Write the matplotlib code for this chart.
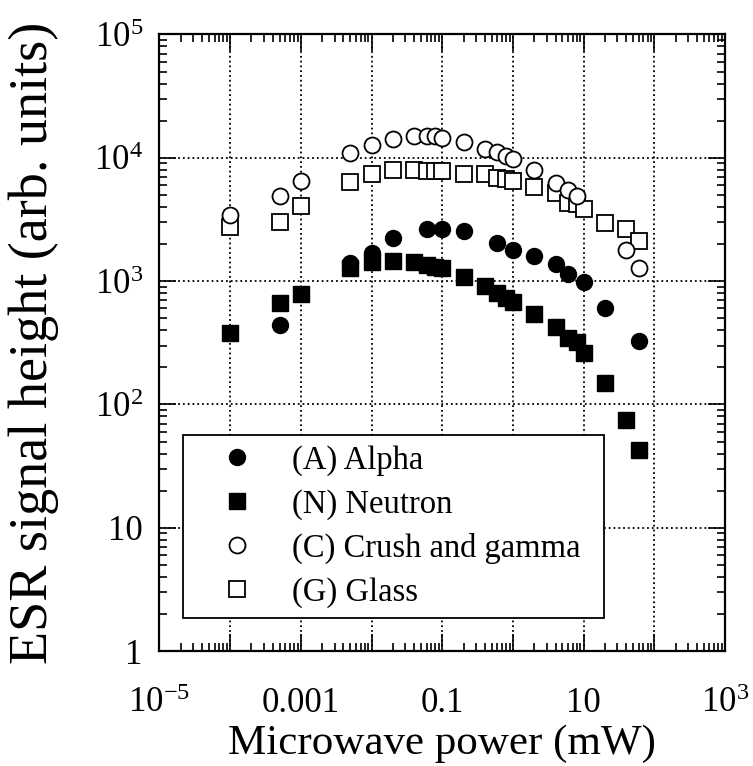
import numpy as np
import matplotlib
matplotlib.use("Agg")
import matplotlib.pyplot as plt
from matplotlib.ticker import LogLocator, NullFormatter

plt.rcParams["font.family"] = ["Liberation Serif", "DejaVu Serif"]
plt.rcParams["mathtext.fontset"] = "custom"
plt.rcParams["mathtext.rm"] = "Liberation Serif"
plt.rcParams["mathtext.it"] = "Liberation Serif:italic"

# microwave power (mW) and signal heights
power_A = [5e-4, 5e-3, 1e-2, 0.02, 0.06, 0.1, 0.2, 0.6, 1, 2, 4, 6, 10, 20, 60]
alpha = [440, 1390, 1680, 2220, 2630, 2630, 2560, 2020, 1780, 1600, 1370,
         1140, 980, 607, 326]

power_N = [1e-4, 5e-4, 1e-3, 5e-3, 1e-2, 0.02, 0.04, 0.06, 0.08, 0.1, 0.2,
           0.4, 0.6, 0.8, 1, 2, 4, 6, 8, 10, 20, 40, 60]
neutron = [381, 660, 785, 1270, 1440, 1460, 1420, 1350, 1310, 1280, 1080,
           916, 795, 725, 680, 540, 427, 343, 322, 260, 150, 75, 43]

power_C = [1e-4, 5e-4, 1e-3, 5e-3, 1e-2, 0.02, 0.04, 0.06, 0.08, 0.1, 0.2,
           0.4, 0.6, 0.8, 1, 2, 4, 6, 8, 40, 60]
crush = [3430, 4890, 6500, 10900, 12700, 14100, 15000, 15000, 15000, 14600,
         13500, 11800, 11100, 10300, 9700, 7950, 6270, 5470, 4920, 1780, 1270]

power_G = [1e-4, 5e-4, 1e-3, 5e-3, 1e-2, 0.02, 0.04, 0.06, 0.08, 0.1, 0.2,
           0.4, 0.6, 0.8, 1, 2, 4, 6, 8, 10, 20, 40, 60]
glass = [2760, 3030, 4050, 6380, 7330, 7940, 7940, 7800, 7800, 7800, 7380,
         7380, 6810, 6700, 6510, 5750, 5140, 4270, 4200, 3840, 2940, 2630, 2120]

labels = ["(A) Alpha", "(N) Neutron", "(C) Crush and gamma", "(G) Glass"]
xdecades = [1e-5, 1e-4, 1e-3, 1e-2, 1e-1, 1, 1e1, 1e2, 1e3]
xticklabels = [r"$10^{\mathregular{-5}}$", "", "0.001", "", "0.1", "", "10", "",
               r"$10^{3}$"]
yticks = [1, 10, 1e2, 1e3, 1e4, 1e5]
yticklabels = ["1", "10", r"$10^{2}$", r"$10^{3}$", r"$10^{4}$", r"$10^{5}$"]

fig = plt.figure(figsize=(7.53, 7.66), dpi=100)
ax = fig.add_axes([0.2118, 0.150, 0.7512, 0.805])

ms = 11.5
ax.plot(power_G, glass, "s", ms=ms - 0.5, mfc="white", mec="black", mew=1.3,
        label=labels[3], zorder=3)
ax.plot(power_C, crush, "o", ms=ms, mfc="white", mec="black", mew=1.3,
        label=labels[2], zorder=3)
ax.plot(power_N, neutron, "s", ms=ms - 0.5, color="black", label=labels[1],
        zorder=4)
ax.plot(power_A, alpha, "o", ms=ms, color="black", label=labels[0], zorder=4)

ax.set_xscale("log")
ax.set_yscale("log")
ax.set_xlim(1e-5, 1e3)
ax.set_ylim(1, 1e5)

ax.set_xticks(xdecades, xticklabels)
ax.xaxis.set_minor_locator(LogLocator(base=10, subs=np.arange(2, 10), numticks=20))
ax.xaxis.set_minor_formatter(NullFormatter())
ax.set_yticks(yticks, yticklabels)
ax.yaxis.set_minor_locator(LogLocator(base=10, subs=np.arange(2, 10), numticks=20))
ax.yaxis.set_minor_formatter(NullFormatter())

ax.tick_params(which="both", direction="in", top=True, right=True, width=1.2)
ax.tick_params(which="major", length=12, labelsize=25)
ax.tick_params(axis="x", which="major", pad=26)
ax.tick_params(axis="y", which="major", pad=12)
ax.tick_params(which="minor", length=6)

ax.grid(True, which="major", linestyle=":", color="black", linewidth=1.3)
for s in ax.spines.values():
    s.set_linewidth(1.6)

ax.set_xlabel("Microwave power (mW)", fontsize=31)
ax.set_ylabel("ESR signal height (arb. units)", fontsize=39)
ax.xaxis.set_label_coords(0.5, -0.119)
ax.yaxis.set_label_coords(-0.178, 0.5)

handles, labs = ax.get_legend_handles_labels()
order = [3, 2, 1, 0]
leg = ax.legend([handles[i] for i in order], [labs[i] for i in order],
                loc="lower left", bbox_to_anchor=(0.041, 0.054, 0.745, 0.296),
                mode="expand", fontsize=23.5, frameon=True, fancybox=False,
                edgecolor="black", framealpha=1, markerscale=1.0,
                handletextpad=0.35, labelspacing=0.4, borderpad=0.3,
                handlelength=2.7, borderaxespad=0)
leg.get_frame().set_linewidth(1.3)

fig.savefig("out.png", dpi=100)
